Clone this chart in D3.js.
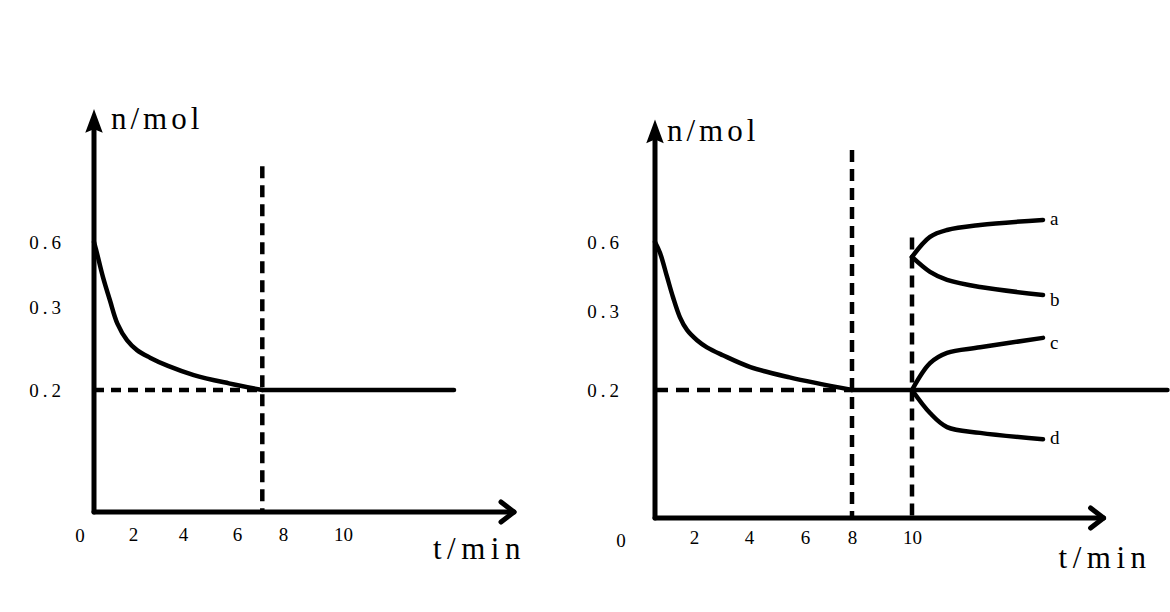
<!DOCTYPE html>
<html>
<head>
<meta charset="utf-8">
<script src="https://cdn.jsdelivr.net/npm/d3@7"></script>
<style>
body { margin: 0; background: #fff; }
text { font-family: "Liberation Serif", "DejaVu Serif", serif; fill: #000; }
</style>
</head>
<body>
<div id="chart"></div>
<script>
// tick labels
var xTicks = [2, 4, 6, 8, 10];
var yTicks = [0.6, 0.3, 0.2];

// left figure: n falls to equilibrium
var leftT = [0, 0.15, 0.46, 0.82, 1.2, 1.69, 2.16, 2.68, 3.4, 4.4, 5.7, 7.1];
var leftN = [0.6, 0.549, 0.438, 0.33, 0.28, 0.26, 0.248, 0.239, 0.229, 0.218, 0.208, 0.2];
var leftFlat = [7.1, 13.7];     // flat line at 0.2, from / to
var leftGuideT = [7.1];
var leftGuideTop = [0.95];
var leftAxisEnd = [15.7, 1.2];  // t and n of arrow tips

// right figure
var rightT = [0, 0.26, 0.62, 0.92, 1.28, 1.64, 2.11, 2.47, 3.05, 4.05, 5.45, 8];
var rightN = [0.6, 0.552, 0.448, 0.361, 0.292, 0.276, 0.263, 0.254, 0.244, 0.229, 0.216, 0.2];
var rightFlat = [8, 17.8];
var rightGuideT = [8, 10];
var rightGuideTop = [1.0, 0.62];
var rightAxisEnd = [15.85, 1.12];

// branches after 10 min
var branchT = [10, 10.55, 11.07, 12.08, 14];
var branchA = [0.535, 0.622, 0.652, 0.674, 0.696];
var branchB = [0.535, 0.47, 0.435, 0.404, 0.37];
var branchC = [0.2, 0.234, 0.247, 0.254, 0.266];
var branchD = [0.2, 0.164, 0.142, 0.133, 0.123];
var branchNames = ["a", "b", "c", "d"];

var svg = d3.select("#chart")
  .append("svg")
  .attr("width", 1170)
  .attr("height", 612);

svg.append("rect").attr("width", 1170).attr("height", 612).attr("fill", "#fff");

function drawPanel(p) {
  var x = d3.scaleLinear().domain([0, 2, 4, 6, 8, 10].concat(p.xExtra)).range(p.xRange);
  var y = d3.scaleLinear().domain([0, 0.2, 0.3, 0.6]).range(p.yRange);
  var g = svg.append("g");

  var x0 = x(0), y0 = y(0);
  var xTip = x(p.axisEnd[0]), yTip = y(p.axisEnd[1]);

  // tick labels through d3 axes (no tick marks, no domain)
  var ay = g.append("g")
    .attr("transform", "translate(" + x0 + ",0)")
    .call(d3.axisLeft(y).tickValues(yTicks).tickSize(0).tickPadding(p.yPad)
      .tickFormat(d3.format(".1f")));
  var ax = g.append("g")
    .attr("transform", "translate(0," + y0 + ")")
    .call(d3.axisBottom(x).tickValues(xTicks).tickSize(0).tickPadding(p.xPad));
  g.selectAll(".domain").remove();
  g.selectAll(".tick text")
    .style("font-family", '"Liberation Serif", serif')
    .style("font-size", "19px")
    .attr("fill", "#000");
  ay.selectAll(".tick text").style("letter-spacing", "4px");

  g.append("text")
    .attr("x", x0 - p.zeroDx).attr("y", y0 + p.zeroDy)
    .attr("text-anchor", "middle")
    .style("font-size", "19px")
    .text("0");

  // dashed guides
  p.guideT.forEach(function(t, i) {
    g.append("line")
      .attr("x1", x(t)).attr("x2", x(t))
      .attr("y1", y(p.guideTop[i])).attr("y2", y0)
      .attr("stroke", "#000").attr("stroke-width", 4.5)
      .attr("stroke-dasharray", "12,7");
  });
  g.append("line")
    .attr("x1", x0).attr("x2", x(p.flat[0]))
    .attr("y1", y(0.2)).attr("y2", y(0.2))
    .attr("stroke", "#000").attr("stroke-width", 4.5)
    .attr("stroke-dasharray", p.hDash);

  // axes with arrows
  g.append("line")
    .attr("x1", x0).attr("x2", x0)
    .attr("y1", y0).attr("y2", yTip + 10)
    .attr("stroke", "#000").attr("stroke-width", 5).attr("stroke-linecap", "round");
  g.append("path")
    .attr("d", "M" + x0 + "," + yTip + "L" + (x0 - 7) + "," + (yTip + 19) +
      "L" + x0 + "," + (yTip + 16) + "L" + (x0 + 7) + "," + (yTip + 19) + "Z")
    .attr("fill", "#000").attr("stroke", "#000").attr("stroke-width", 2);
  g.append("line")
    .attr("x1", x0).attr("x2", xTip)
    .attr("y1", y0).attr("y2", y0)
    .attr("stroke", "#000").attr("stroke-width", 5).attr("stroke-linecap", "round");
  g.append("path")
    .attr("d", "M" + (xTip - 13) + "," + (y0 - 10) + "L" + xTip + "," + y0 +
      "L" + (xTip - 13) + "," + (y0 + 10))
    .attr("fill", "none").attr("stroke", "#000").attr("stroke-width", 5)
    .attr("stroke-linecap", "round").attr("stroke-linejoin", "round");

  // axis titles
  g.append("text")
    .attr("x", x0 + p.nDx).attr("y", yTip + p.nDy)
    .style("font-size", "31px").style("letter-spacing", "4px")
    .text("n/mol");
  g.append("text")
    .attr("x", xTip + p.tDx).attr("y", y0 + p.tDy)
    .style("font-size", "31px").style("letter-spacing", "5.5px")
    .text("t/min");

  // curves
  var line = d3.line()
    .x(function(d) { return x(d[0]); })
    .y(function(d) { return y(d[1]); })
    .curve(d3.curveCatmullRom.alpha(0.5));

  g.append("path")
    .datum(d3.zip(p.t, p.n))
    .attr("d", line)
    .attr("fill", "none").attr("stroke", "#000").attr("stroke-width", 4.5)
    .attr("stroke-linecap", "round");
  g.append("line")
    .attr("x1", x(p.flat[0])).attr("x2", x(p.flat[1]))
    .attr("y1", y(0.2)).attr("y2", y(0.2))
    .attr("stroke", "#000").attr("stroke-width", 4.5).attr("stroke-linecap", "round");

  if (p.branches) {
    p.branches.forEach(function(vals, i) {
      g.append("path")
        .datum(d3.zip(branchT, vals))
        .attr("d", line)
        .attr("fill", "none").attr("stroke", "#000").attr("stroke-width", 4.5)
        .attr("stroke-linecap", "round");
      g.append("text")
        .attr("x", x(branchT[branchT.length - 1]) + 7)
        .attr("y", y(vals[vals.length - 1]) + (i === 0 || i === 3 ? 5 : 11))
        .style("font-size", "19px")
        .text(branchNames[i]);
    });
  }
}

drawPanel({
  xExtra: [], xRange: [94, 133, 183, 237, 283, 343],
  yRange: [512, 390, 307, 242],
  t: leftT, n: leftN, flat: leftFlat,
  guideT: leftGuideT, guideTop: leftGuideTop, axisEnd: leftAxisEnd,
  hDash: "10,7", yPad: 29, xPad: 16, zeroDx: 14, zeroDy: 30,
  nDx: 17, nDy: 17, tDx: -81, tDy: 47
});

drawPanel({
  xExtra: [14], xRange: [655, 694, 749, 805, 852, 912, 1043],
  yRange: [518, 390, 311, 242],
  t: rightT, n: rightN, flat: rightFlat,
  guideT: rightGuideT, guideTop: rightGuideTop, axisEnd: rightAxisEnd,
  hDash: "13,8", yPad: 32, xPad: 13, zeroDx: 34, zeroDy: 29,
  nDx: 12, nDy: 19, tDx: -45, tDy: 50,
  branches: [branchA, branchB, branchC, branchD]
});
</script>
</body>
</html>
